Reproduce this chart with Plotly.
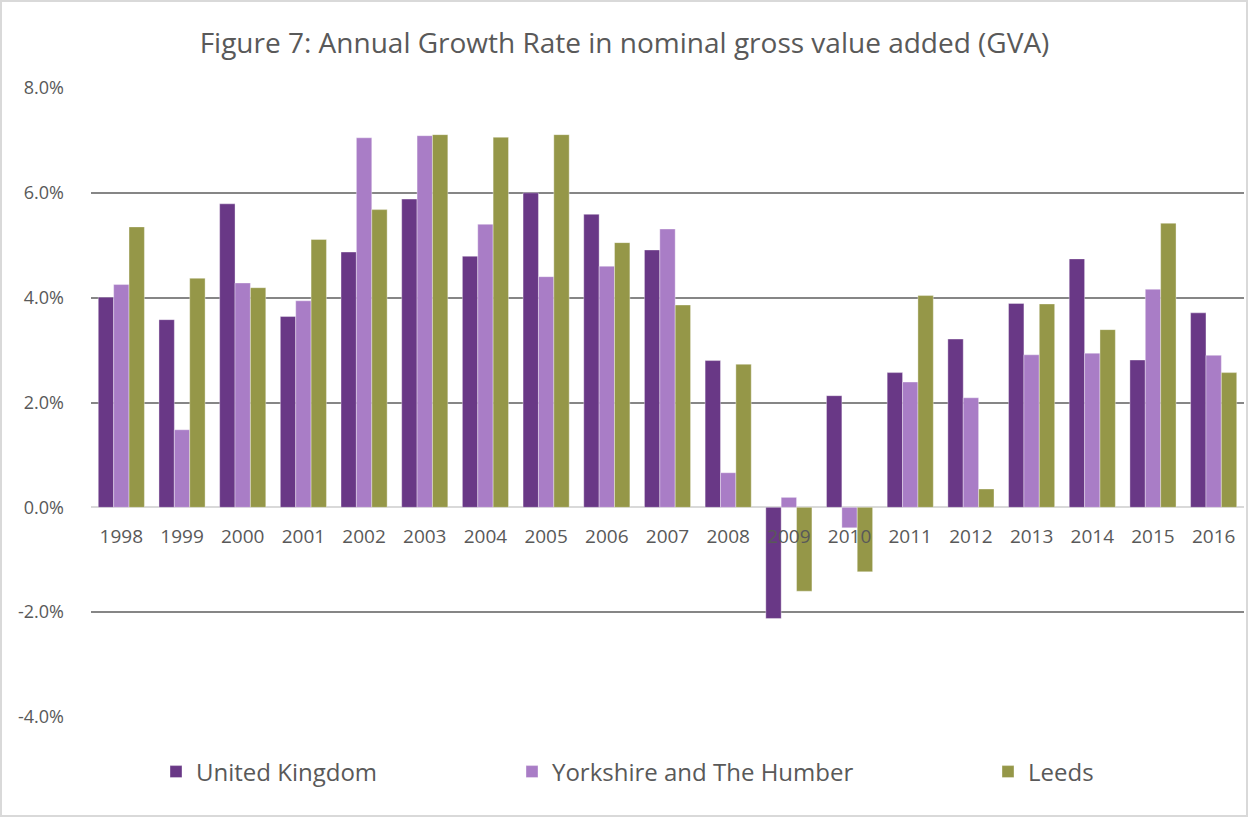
import plotly.graph_objects as go

years = [str(y) for y in range(1998, 2017)]
uk = [4.01, 3.58, 5.79, 3.64, 4.87, 5.88, 4.79, 6.00, 5.59, 4.91, 2.80, -2.12, 2.13, 2.57, 3.21, 3.89, 4.74, 2.81, 3.71]
yorks = [4.25, 1.48, 4.28, 3.94, 7.05, 7.09, 5.40, 4.40, 4.60, 5.31, 0.66, 0.19, -0.39, 2.39, 2.09, 2.91, 2.94, 4.16, 2.90]
leeds = [5.35, 4.37, 4.19, 5.11, 5.68, 7.11, 7.06, 7.11, 5.05, 3.86, 2.73, -1.60, -1.23, 4.04, 0.35, 3.88, 3.39, 5.42, 2.57]

series_names = ["United Kingdom", "Yorkshire and The Humber", "Leeds"]
series_colors = ["#693886", "#A97DC6", "#959748"]
tick_vals = [-4, -2, 0, 2, 4, 6, 8]
tick_text = [f"{v:.1f}%" for v in tick_vals]

FONT = "Open Sans"
W, H = 1249, 817
L, R, T, B = 91, 5, 88, 100
pw, ph = W - L - R, H - T - B

fig = go.Figure()
legends = ["legend2", "legend3", "legend4"]
for name, vals, col, lg in zip(series_names, [uk, yorks, leeds], series_colors, legends):
    fig.add_trace(go.Bar(
        x=years, y=vals, name=name,
        marker=dict(color=col, line=dict(color="rgba(255,255,255,0.6)", width=0.6)),
        legend=lg,
    ))

def legend_at(px):
    return dict(x=(px - L) / pw, y=(H - B - 772) / ph, xanchor="left", yanchor="middle",
                orientation="h", bgcolor="rgba(0,0,0,0)",
                font=dict(family=FONT, size=24, color="#595959"),
                itemwidth=30, tracegroupgap=0)

fig.update_layout(
    width=W, height=H,
    margin=dict(l=L, r=R, t=T, b=B),
    paper_bgcolor="white", plot_bgcolor="white",
    barmode="group", bargap=0.24, bargroupgap=0,
    title=dict(text="Figure 7: Annual Growth Rate in nominal gross value added (GVA)",
               x=0.5, xref="container", xanchor="center", y=1 - 43 / H, yanchor="middle",
               font=dict(family=FONT, size=28, color="#595959")),
    showlegend=True,
    legend2=legend_at(156),
    legend3=legend_at(512),
    legend4=legend_at(988),
    font=dict(family=FONT, color="#595959"),
    xaxis=dict(type="category", anchor="free", position=4 / 12, showgrid=False,
               showline=False, ticks="", tickfont=dict(family=FONT, size=19, color="#595959"),
               ticklabelstandoff=16),
    yaxis=dict(range=[-4, 8], tickvals=tick_vals, ticktext=tick_text,
               showgrid=True, gridcolor="#868686", gridwidth=2,
               zeroline=True, zerolinecolor="#d9d9d9", zerolinewidth=2,
               showline=False, ticks="", ticklabelstandoff=26,
               tickfont=dict(family=FONT, size=18, color="#595959")),
)

fig.add_shape(type="rect", xref="paper", yref="paper",
              x0=(1 - L) / pw, x1=(W - 2 - L) / pw,
              y0=-(B - 1) / ph, y1=1 + (T - 1) / ph,
              line=dict(color="#d9d9d9", width=2), layer="below")

fig.write_html("out.html", config={"displayModeBar": False},
               post_script="document.body.style.margin='0';")
